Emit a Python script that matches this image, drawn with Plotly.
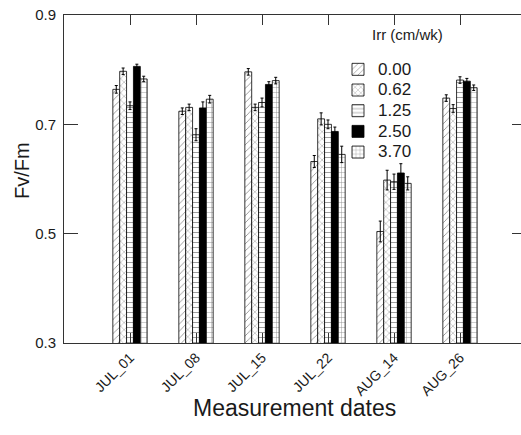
import plotly.graph_objects as go

dates = ["JUL_01", "JUL_08", "JUL_15", "JUL_22", "AUG_14", "AUG_26"]
irr_labels = ["0.00", "0.62", "1.25", "2.50", "3.70"]

fv_000 = [0.764, 0.724, 0.796, 0.632, 0.504, 0.748]
fv_062 = [0.797, 0.731, 0.731, 0.710, 0.598, 0.729]
fv_125 = [0.734, 0.681, 0.740, 0.700, 0.595, 0.781]
fv_250 = [0.806, 0.730, 0.773, 0.687, 0.611, 0.779]
fv_370 = [0.783, 0.746, 0.780, 0.645, 0.592, 0.767]

err_000 = [0.007, 0.006, 0.006, 0.011, 0.019, 0.006]
err_062 = [0.006, 0.006, 0.006, 0.011, 0.018, 0.007]
err_125 = [0.007, 0.011, 0.008, 0.008, 0.014, 0.006]
err_250 = [0.004, 0.011, 0.005, 0.008, 0.017, 0.005]
err_370 = [0.005, 0.007, 0.006, 0.015, 0.012, 0.005]

series = [fv_000, fv_062, fv_125, fv_250, fv_370]
errors = [err_000, err_062, err_125, err_250, err_370]
shapes = ["/", "x", "-", "", "+"]
fills = ["white", "white", "white", "black", "white"]

FONT = "Liberation Sans, Arial, sans-serif"
TXT = "#1a1a1a"
AX = "#333333"
# the original chart's right frame lies just outside the 521 px picture
W, H = 526, 435
ML, MR, MT, MB = 64, 0, 15, 92
pw, ph = W - ML - MR, H - MT - MB


def px_x(px):
    return (px - ML) / pw


def px_y(py):
    return (H - MB - py) / ph


fig = go.Figure()
xidx = list(range(len(dates)))
for lab, vals, errs, shp, fc in zip(irr_labels, series, errors, shapes, fills):
    fig.add_trace(go.Bar(
        x=xidx, y=vals,
        name="<span style='font-size:17px'>" + lab + "</span>",
        marker=dict(color=fc, line=dict(color="black", width=0.8),
                    pattern=dict(shape=shp, fgcolor="black", bgcolor=fc,
                                 size=5, solidity=0.15)),
        error_y=dict(type="data", array=errs, visible=True,
                     color="black", thickness=1, width=1.5),
    ))

fig.update_layout(
    width=W, height=H,
    margin=dict(l=ML, r=MR, t=MT, b=MB, autoexpand=False),
    paper_bgcolor="white", plot_bgcolor="white",
    barmode="group", bargap=0.48, bargroupgap=0,
    font=dict(family=FONT, color=TXT),
    showlegend=True,
    legend=dict(
        x=px_x(338), xanchor="left",
        y=px_y(54), yanchor="top",
        font=dict(size=13.6, family=FONT, color=TXT),
        bgcolor="rgba(0,0,0,0)", tracegroupgap=0,
    ),
    xaxis=dict(
        range=[-1, 6], tickvals=xidx, ticktext=dates,
        tickangle=-45, tickfont=dict(size=14, family=FONT, color=TXT),
        showline=True, linecolor=AX, linewidth=1, mirror="ticks",
        ticks="inside", ticklen=10, tickcolor=AX,
        showgrid=False, zeroline=False,
    ),
    yaxis=dict(
        range=[0.3, 0.9], tickvals=[0.3, 0.5, 0.7, 0.9],
        ticktext=["0.3", "0.5", "0.7", "0.9"],
        tickfont=dict(size=15, family=FONT, color=TXT),
        showline=True, linecolor=AX, linewidth=1, mirror="ticks",
        ticks="inside", ticklen=14, tickcolor=AX,
        ticklabelstandoff=4,
        showgrid=False, zeroline=False,
    ),
    annotations=[
        dict(text="Fv/Fm", x=px_x(22), y=px_y(171), textangle=-90,
             font=dict(size=20, family=FONT, color=TXT)),
        dict(text="Measurement dates", x=px_x(294), y=px_y(408),
             font=dict(size=23, family=FONT, color=TXT)),
        dict(text="Irr (cm/wk)", x=px_x(407), y=px_y(34),
             font=dict(size=15, family=FONT, color=TXT)),
    ],
)
fig.update_annotations(xref="paper", yref="paper", showarrow=False,
                       xanchor="center", yanchor="middle")

fig.write_html(
    "out.html",
    config={"displayModeBar": False},
    post_script="document.body.style.margin='0';"
                "document.body.style.overflow='hidden';"
                "document.documentElement.style.overflow='hidden';",
)
